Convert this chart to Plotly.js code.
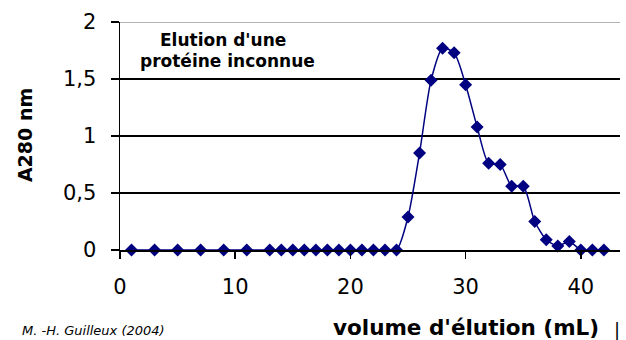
<!DOCTYPE html>
<html>
<head>
<meta charset="utf-8">
<script src="https://cdn.plot.ly/plotly-3.0.1.min.js"></script>
<style>html,body{margin:0;padding:0;background:#fff;}#chart{width:626px;height:340px;}</style>
</head>
<body>
<div id="chart"></div>
<script>
const volume = [1,3,5,7,9,11,13,14,15,16,17,18,19,20,21,22,23,24,25,26,27,28,29,30,31,32,33,34,35,36,37,38,39,40,41,42];
const absorbance = [0,0,0,0,0,0,0,0,0,0,0,0,0,0,0,0,0,0,0.29,0.85,1.49,1.77,1.73,1.45,1.08,0.76,0.75,0.56,0.56,0.25,0.09,0.035,0.075,0,0,0];
const xTicks = [0,10,20,30,40];
const yTicks = [0,0.5,1,1.5,2];
const yTickText = ['0','0,5','1','1,5','2'];

const F = 'DejaVu Sans, Liberation Sans, sans-serif';

const trace = {
  x: volume, y: absorbance, type: 'scatter', mode: 'lines+markers',
  line: {color: '#000080', width: 1.5, shape: 'spline', smoothing: 0.7},
  marker: {symbol: 'diamond', size: 10, color: '#000080'},
  cliponaxis: false, hoverinfo: 'skip'
};

const layout = {
  width: 626, height: 340,
  margin: {l: 120, r: 6, t: 22, b: 90},
  paper_bgcolor: '#fff', plot_bgcolor: '#fff',
  showlegend: false,
  font: {family: F, color: '#000'},
  xaxis: {
    range: [0, 43.4], tickvals: xTicks, ticktext: xTicks.map(String),
    ticks: 'outside', ticklen: 7, tickcolor: '#000', tickwidth: 1.5,
    ticklabelstandoff: 10,
    showline: true, linecolor: '#000', linewidth: 1.5,
    showgrid: false, zeroline: false,
    tickfont: {size: 21, color: '#000', family: F}, fixedrange: true
  },
  yaxis: {
    range: [0, 2], tickvals: yTicks, ticktext: yTickText,
    ticks: 'outside', ticklen: 8, tickcolor: '#000', tickwidth: 1.5,
    ticklabelstandoff: 10,
    showline: true, linecolor: '#000', linewidth: 1.5,
    showgrid: true, gridcolor: '#000', gridwidth: 1.2, zeroline: false,
    tickfont: {size: 21, color: '#000', family: F}, fixedrange: true
  },
  shapes: [
    {type: 'line', xref: 'paper', yref: 'y', x0: 0, x1: 1, y0: yTicks[4], y1: yTicks[4], line: {color: '#999', width: 1.5}, layer: 'above'}
  ],
  annotations: [
    {text: '<b>A280 nm</b>', xref: 'paper', yref: 'paper', x: -0.19, y: 0.504, textangle: -90, showarrow: false, font: {size: 19, family: F}, xanchor: 'center', yanchor: 'middle'},
    {text: '<b>Elution d\'une</b>', xref: 'paper', yref: 'paper', x: 0.205, y: 0.921, showarrow: false, font: {size: 17, family: F}, xanchor: 'center', yanchor: 'middle'},
    {text: '<b>protéine inconnue</b>', xref: 'paper', yref: 'paper', x: 0.215, y: 0.83, showarrow: false, font: {size: 17, family: F}, xanchor: 'center', yanchor: 'middle'},
    {text: '<b>volume d\'élution (mL)</b>', xref: 'paper', yref: 'paper', x: 0.692, y: -0.338, showarrow: false, font: {size: 21.5, family: F}, xanchor: 'center', yanchor: 'middle'},
    {text: '|', xref: 'paper', yref: 'paper', x: 0.994, y: -0.35, showarrow: false, font: {size: 18, family: F}, xanchor: 'center', yanchor: 'middle'},
    {text: '<i>M. -H. Guilleux (2004)</i>', xref: 'paper', yref: 'paper', x: -0.2, y: -0.355, showarrow: false, font: {size: 13, family: F}, xanchor: 'left', yanchor: 'middle'}
  ]
};

Plotly.newPlot('chart', [trace], layout, {staticPlot: true, displayModeBar: false});
</script>
</body>
</html>
